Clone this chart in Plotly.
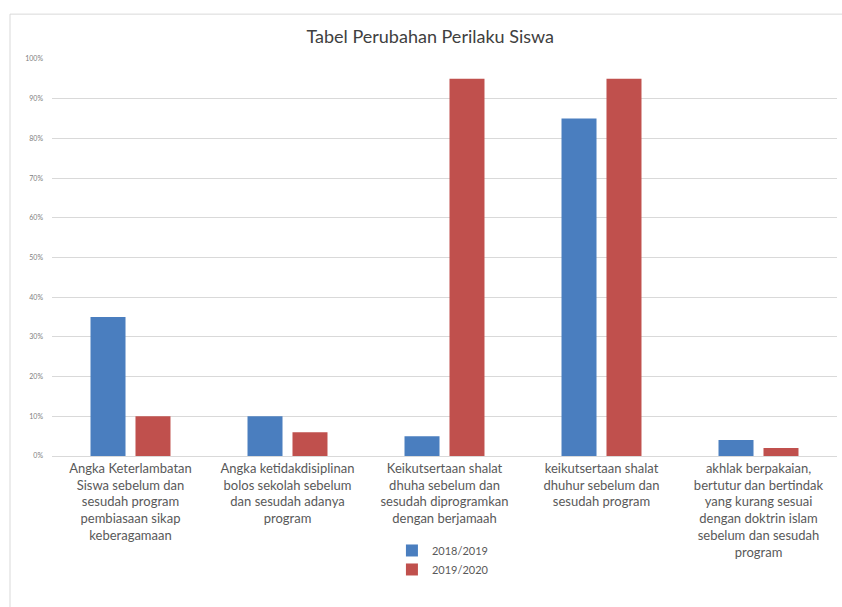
import plotly.graph_objects as go

categories = [
    "Angka Keterlambatan<br>Siswa sebelum dan<br>sesudah program<br>pembiasaan sikap<br>keberagamaan",
    "Angka ketidakdisiplinan<br>bolos sekolah sebelum<br>dan sesudah adanya<br>program",
    "Keikutsertaan shalat<br>dhuha sebelum dan<br>sesudah diprogramkan<br>dengan berjamaah",
    "keikutsertaan shalat<br>dhuhur sebelum dan<br>sesudah program",
    "akhlak berpakaian,<br>bertutur dan bertindak<br>yang kurang sesuai<br>dengan doktrin islam<br>sebelum dan sesudah<br>program",
]
series_names = ["2018/2019", "2019/2020"]
values_2018 = [0.35, 0.10, 0.05, 0.85, 0.04]
values_2019 = [0.10, 0.06, 0.95, 0.95, 0.02]
tick_vals = [0, 0.1, 0.2, 0.3, 0.4, 0.5, 0.6, 0.7, 0.8, 0.9, 1.0]
tick_text = ["0%", "10%", "20%", "30%", "40%", "50%", "60%", "70%", "80%", "90%", "100%"]

colors = ["#4A7EBF", "#C0504D"]

fig = go.Figure()
for name, vals, col in zip(series_names, [values_2018, values_2019], colors):
    fig.add_trace(go.Bar(x=categories, y=vals, name=name, marker=dict(color=col, line=dict(width=0))))

fig.update_layout(
    width=842, height=607,
    paper_bgcolor="white", plot_bgcolor="white",
    font=dict(family="Lato, Carlito, sans-serif", color="#595959"),
    title=dict(text="Tabel Perubahan Perilaku Siswa", x=0.511, xanchor="center",
               yref="container", y=0.939, yanchor="middle",
               font=dict(size=18, color="#404040")),
    margin=dict(l=52, r=5, t=59, b=151, autoexpand=False),
    barmode="group", bargap=0.427, bargroupgap=0.222,
    showlegend=True,
    legend=dict(orientation="v", x=0.498, xanchor="center", yref="container", y=0.117, yanchor="top",
                font=dict(size=11, color="#595959"), itemwidth=30, tracegroupgap=0),
    xaxis=dict(showgrid=False, showline=True, linecolor="#D9D9D9", linewidth=1,
               tickfont=dict(size=13, color="#595959"), ticks="", automargin=False),
    yaxis=dict(range=[0, 1.0], tickvals=tick_vals, ticktext=tick_text, showgrid=True,
               gridcolor="#D9D9D9", gridwidth=1, zeroline=False, showline=False,
               tickfont=dict(size=7, color="#808080"), ticklabelstandoff=8, automargin=False),
)
fig.add_shape(type="rect", xref="paper", yref="paper", x0=-0.0535, x1=1.05, y0=-0.4, y1=1.113,
              line=dict(color="#D9D9D9", width=1), layer="below")

fig.write_html("out.html")
